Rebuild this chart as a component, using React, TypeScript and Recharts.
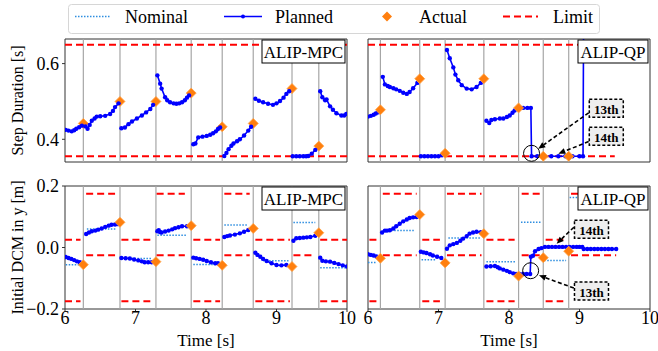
import React from 'react';
import {
  ComposedChart, Line, Scatter, XAxis, YAxis, ReferenceLine, ReferenceArea, ReferenceDot, Legend,
} from 'recharts';

type P = [number, number];
type Row = { t: number; v: number | null };

// ---------- axes ----------
const xTicks = [6, 7, 8, 9, 10];
const durationTicks = [0.4, 0.6];
const dcmTicks = [-0.2, 0, 0.2];
const durationDomain = [0.34, 0.665];
const dcmDomain = [-0.2, 0.2];
const legendLabels = ['Nominal', 'Planned', 'Actual', 'Limit'];

// ---------- step switch times ----------
const mpcSwitchTimes = [6.26, 6.78, 7.29, 7.79, 8.23, 8.67, 9.22, 9.6];
const qpSwitchTimes = [6.176, 6.734, 7.094, 7.643, 8.136, 8.486, 8.847];

// ---------- step duration limits ----------
const durationLimitValues = [0.355, 0.65];
const mpcDurationLimitSpan = [6, 10];
const qpDurationLimitSpan = [6, 9.5];

// ---------- ALIP-MPC step duration ----------
const mpcDurationPlanned: P[][] = [
  [[6.01, 0.425], [6.05, 0.423], [6.095, 0.421], [6.13, 0.424], [6.16, 0.428], [6.2, 0.432], [6.24, 0.436]],
  [[6.29, 0.434], [6.32, 0.428], [6.35, 0.438], [6.38, 0.449], [6.42, 0.455], [6.45, 0.46], [6.5, 0.461], [6.57, 0.462], [6.64, 0.467], [6.68, 0.475], [6.71, 0.485], [6.76, 0.495]],
  [[6.8, 0.429], [6.85, 0.431], [6.9, 0.44], [6.95, 0.447], [7.02, 0.455], [7.09, 0.463], [7.15, 0.471], [7.21, 0.48], [7.25, 0.491]],
  [[7.31, 0.569], [7.35, 0.547], [7.37, 0.534], [7.42, 0.511], [7.45, 0.503], [7.49, 0.498], [7.54, 0.495], [7.58, 0.494], [7.62, 0.495], [7.66, 0.498], [7.7, 0.503], [7.73, 0.51], [7.76, 0.516]],
  [[7.82, 0.387], [7.85, 0.389], [7.89, 0.405], [7.95, 0.407], [8.01, 0.409], [8.06, 0.412], [8.1, 0.416], [8.14, 0.421], [8.17, 0.427], [8.2, 0.431]],
  [[8.26, 0.356], [8.29, 0.364], [8.32, 0.374], [8.36, 0.383], [8.39, 0.389], [8.44, 0.395], [8.48, 0.4], [8.54, 0.41], [8.6, 0.423], [8.64, 0.433]],
  [[8.7, 0.507], [8.75, 0.502], [8.81, 0.498], [8.88, 0.494], [8.95, 0.491], [9.0, 0.495], [9.05, 0.501], [9.1, 0.51], [9.14, 0.52], [9.18, 0.527]],
  [[9.23, 0.355], [9.28, 0.355], [9.33, 0.355], [9.38, 0.355], [9.42, 0.355], [9.45, 0.356], [9.5, 0.362], [9.55, 0.372]],
  [[9.62, 0.527], [9.65, 0.511], [9.69, 0.503], [9.71, 0.505], [9.76, 0.487], [9.8, 0.478], [9.85, 0.469], [9.92, 0.463], [9.96, 0.463], [9.99, 0.467]],
];
const mpcDurationActual: P[] = [
  [6.26, 0.442], [6.78, 0.5], [7.29, 0.5], [7.79, 0.522], [8.23, 0.433], [8.67, 0.442], [9.22, 0.534], [9.6, 0.382],
];

// ---------- ALIP-QP step duration ----------
const qpDurationPlanned: P[][] = [
  [[6.0, 0.46], [6.04, 0.462], [6.08, 0.465], [6.11, 0.468], [6.14, 0.471]],
  [[6.21, 0.565], [6.24, 0.545], [6.28, 0.541], [6.31, 0.538], [6.36, 0.535], [6.4, 0.532], [6.45, 0.528], [6.5, 0.523], [6.55, 0.52], [6.59, 0.525], [6.64, 0.535], [6.7, 0.549]],
  [[6.75, 0.355], [6.8, 0.355], [6.85, 0.355], [6.9, 0.355], [6.95, 0.355], [7.0, 0.355], [7.05, 0.358]],
  [[7.12, 0.636], [7.16, 0.614], [7.21, 0.59], [7.24, 0.571], [7.28, 0.556], [7.33, 0.543], [7.4, 0.534], [7.47, 0.532], [7.54, 0.538], [7.6, 0.549]],
  [[7.68, 0.449], [7.72, 0.443], [7.75, 0.451], [7.8, 0.453], [7.87, 0.455], [7.92, 0.455], [7.97, 0.459], [8.01, 0.463], [8.05, 0.47], [8.08, 0.476], [8.14, 0.483], [8.2, 0.483], [8.26, 0.483], [8.31, 0.483],
    [8.32, 0.355], [8.4, 0.355], [8.5, 0.355], [8.6, 0.355], [8.7, 0.355], [8.8, 0.355], [8.9, 0.355], [9.0, 0.355], [9.05, 0.355], [9.06, 0.8], [9.5, 0.8]],
];
const qpDurationActual: P[] = [
  [6.176, 0.478], [6.734, 0.56], [7.094, 0.363], [7.643, 0.56], [8.136, 0.483], [8.486, 0.355], [8.847, 0.355],
];

// ---------- ALIP-MPC initial DCM ----------
const mpcDcmPlanned: P[][] = [
  [[6.01, -0.031], [6.05, -0.034], [6.09, -0.037], [6.13, -0.041], [6.17, -0.045], [6.21, -0.048], [6.23, -0.05]],
  [[6.3, 0.044], [6.34, 0.049], [6.38, 0.053], [6.43, 0.055], [6.47, 0.058], [6.52, 0.062], [6.57, 0.067], [6.62, 0.071], [6.66, 0.074], [6.71, 0.075], [6.75, 0.076]],
  [[6.8, -0.034], [6.86, -0.035], [6.92, -0.036], [6.98, -0.039], [7.04, -0.042], [7.09, -0.045], [7.13, -0.048], [7.18, -0.048], [7.23, -0.048]],
  [[7.31, 0.053], [7.33, 0.056], [7.35, 0.05], [7.37, 0.049], [7.42, 0.052], [7.47, 0.055], [7.52, 0.059], [7.56, 0.063], [7.61, 0.066], [7.66, 0.069], [7.73, 0.069]],
  [[7.82, -0.033], [7.86, -0.035], [7.91, -0.037], [7.96, -0.04], [8.01, -0.044], [8.07, -0.048], [8.13, -0.051], [8.17, -0.051]],
  [[8.26, 0.034], [8.3, 0.037], [8.34, 0.039], [8.41, 0.042], [8.48, 0.046], [8.54, 0.051], [8.6, 0.057]],
  [[8.7, -0.017], [8.73, -0.024], [8.77, -0.03], [8.81, -0.037], [8.86, -0.044], [8.93, -0.051], [9.0, -0.057], [9.07, -0.058], [9.14, -0.057]],
  [[9.24, 0.022], [9.28, 0.03], [9.33, 0.031], [9.38, 0.032], [9.43, 0.033], [9.48, 0.034], [9.55, 0.038]],
  [[9.62, -0.033], [9.65, -0.043], [9.7, -0.045], [9.76, -0.046], [9.82, -0.05], [9.88, -0.054], [9.94, -0.058], [10.0, -0.062]],
];
const mpcDcmActual: P[] = [
  [6.26, -0.056], [6.78, 0.082], [7.29, -0.046], [7.79, 0.071], [8.23, -0.058], [8.67, 0.062], [9.22, -0.062], [9.6, 0.048],
];
// [start, end, value]
const mpcDcmNominal: number[][] = [
  [6.01, 6.21, -0.056], [6.31, 6.73, 0.06], [6.9, 7.23, -0.036], [7.31, 7.73, 0.04], [7.82, 8.17, -0.055],
  [8.26, 8.6, 0.073], [8.81, 9.17, -0.043], [9.24, 9.55, 0.081], [9.62, 10, -0.066],
];
// [start, end, lower, upper]
const mpcDcmLimits: number[][] = [
  [6.0, 6.22, -0.175, 0.025], [6.3, 6.71, -0.025, 0.175], [6.8, 7.21, -0.175, 0.025], [7.3, 7.7, -0.025, 0.175],
  [7.82, 8.2, -0.175, 0.025], [8.26, 8.62, -0.025, 0.175], [8.7, 9.19, -0.175, 0.025], [9.24, 9.55, -0.025, 0.175],
  [9.62, 10, -0.175, 0.025],
];

// ---------- ALIP-QP initial DCM ----------
const qpDcmPlanned: P[][] = [
  [[6.0, -0.022], [6.04, -0.024], [6.08, -0.026], [6.12, -0.029]],
  [[6.2, 0.049], [6.24, 0.055], [6.27, 0.055], [6.31, 0.056], [6.36, 0.062], [6.4, 0.069], [6.45, 0.077], [6.5, 0.085], [6.55, 0.091], [6.59, 0.096], [6.64, 0.098], [6.69, 0.099]],
  [[6.75, -0.014], [6.79, -0.016], [6.83, -0.018], [6.88, -0.022], [6.92, -0.026], [6.98, -0.03], [7.04, -0.034]],
  [[7.12, -0.004], [7.16, 0.007], [7.21, 0.011], [7.26, 0.015], [7.31, 0.022], [7.35, 0.029], [7.4, 0.037], [7.44, 0.045], [7.49, 0.049], [7.54, 0.051], [7.6, 0.05]],
  [[7.68, -0.062], [7.74, -0.061], [7.8, -0.06], [7.84, -0.064], [7.87, -0.068], [7.92, -0.072], [7.97, -0.076], [8.01, -0.08], [8.06, -0.084], [8.1, -0.086], [8.15, -0.086], [8.2, -0.086], [8.25, -0.086], [8.3, -0.086],
    [8.31, -0.03], [8.34, -0.027], [8.37, -0.012], [8.42, -0.005], [8.46, -0.002], [8.51, 0.002], [8.56, 0.002], [8.61, 0.002], [8.66, 0.002], [8.71, 0.002], [8.76, 0.002], [8.81, 0.002], [8.86, 0.002], [8.91, 0.002], [8.96, 0.002], [9.0, 0.002], [9.04, 0.002],
    [9.06, -0.005], [9.11, -0.005], [9.16, -0.005], [9.21, -0.005], [9.26, -0.005], [9.31, -0.005], [9.36, -0.005], [9.41, -0.005], [9.46, -0.005], [9.52, -0.005]],
];
const qpDcmActual: P[] = [
  [6.176, -0.035], [6.734, 0.107], [7.094, -0.05], [7.643, 0.045], [8.136, -0.093], [8.486, -0.033], [8.847, -0.012],
];
const qpDcmNominal: number[][] = [
  [6.0, 6.11, -0.049], [6.33, 6.66, 0.055], [6.76, 6.97, -0.04], [7.14, 7.59, 0.031], [7.68, 8.09, -0.046],
  [8.17, 8.45, 0.082], [8.5, 8.81, -0.042], [8.86, 9.2, 0.163],
];
const qpDcmLimits: number[][] = [
  [6.02, 6.13, -0.175, 0.025], [6.21, 6.69, -0.025, 0.175], [6.77, 7.02, -0.175, 0.025], [7.12, 7.61, -0.025, 0.175],
  [7.68, 8.08, -0.175, 0.025], [8.18, 8.44, -0.025, 0.175], [8.52, 8.77, -0.175, 0.025], [8.88, 9.52, -0.025, 0.175],
];

// ---------- annotations (data coordinates) ----------
const qpDurationCircle: P = [8.32, 0.363];
const qpDurationTags: [string, number, number][] = [['13th', 9.38, 0.482], ['14th', 9.38, 0.408]];
const qpDurationArrows: number[][] = [[9.13, 0.47, 8.415, 0.375], [9.13, 0.394, 8.7, 0.362]];
const qpDcmCircle: P = [8.307, -0.0755];
const qpDcmTags: [string, number, number][] = [['14th', 9.17, 0.0595], ['13th', 9.17, -0.1415]];
const qpDcmArrows: number[][] = [[8.92, 0.066, 8.676, 0.0124], [8.92, -0.132, 8.425, -0.0905]];

// ---------- styles ----------
const FONT = "'Liberation Serif', 'Times New Roman', serif";
const BLUE = '#0000ff';
const NOMINAL = '#2f8ee0';
const ORANGE = '#ff7f0e';
const RED = '#ff0000';
const GRAY = '#a6a6a6';
const W = 658;
const H = 351;
const PLOT_W = 282;
const PLOT_H = 123;
const Y_AXIS_W = 60;
const X_AXIS_H = 40;

// ---------- helpers ----------
const toRows = (segs: P[][]): Row[] => {
  const rows: Row[] = [];
  segs.forEach((seg, i) => {
    if (i > 0) {
      const prev = segs[i - 1];
      rows.push({ t: (prev[prev.length - 1][0] + seg[0][0]) / 2, v: null });
    }
    seg.forEach(([t, v]) => rows.push({ t, v }));
  });
  return rows;
};
const nominalRows = (arr: number[][]) => toRows(arr.map(([a, b, v]) => [[a, v], [b, v]] as P[]));
const limitRows = (arr: number[][], idx: number) => toRows(arr.map((r) => [[r[0], r[idx]], [r[1], r[idx]]] as P[]));
const spanRows = (span: number[], v: number) => toRows([[[span[0], v], [span[1], v]]]);
const fmtTick = (v: number) => (v < 0 ? `\u2212${Math.abs(v).toFixed(1)}` : v.toFixed(1));

const Diamond = (p: any) => {
  const { cx, cy } = p;
  if (cx == null || cy == null) return <g />;
  const s = 5;
  return (
    <polygon
      points={`${cx},${cy - s} ${cx + s},${cy} ${cx},${cy + s} ${cx - s},${cy}`}
      fill={ORANGE}
      stroke="#ffa347"
      strokeWidth={0.8}
    />
  );
};

const ArrowShape = (p: any) => {
  const { x1, y1, x2, y2 } = p;
  const ang = Math.atan2(y2 - y1, x2 - x1);
  const L = 7;
  const Wd = 3;
  const bx = x2 - L * Math.cos(ang);
  const by = y2 - L * Math.sin(ang);
  const px = -Math.sin(ang) * Wd;
  const py = Math.cos(ang) * Wd;
  return (
    <g>
      <line x1={x1} y1={y1} x2={bx} y2={by} stroke="#000" strokeWidth={1.6} strokeDasharray="4 2.5" />
      <polygon points={`${x2},${y2} ${bx + px},${by + py} ${bx - px},${by - py}`} fill="#000" />
    </g>
  );
};

const makeTagShape = (text: string) => (p: any) => {
  const { cx, cy } = p;
  const w = 34;
  const h = 18;
  return (
    <g>
      <rect x={cx - w / 2} y={cy - h / 2} width={w} height={h} fill="#eeeeee" stroke="#000" strokeWidth={1.5} strokeDasharray="3 2" />
      <text x={cx} y={cy + 1} textAnchor="middle" dominantBaseline="central" fontFamily={FONT} fontWeight="bold" fontSize={13} fill="#000">
        {text}
      </text>
    </g>
  );
};

const makeBoxShape = (text: string, w: number) => (p: any) => {
  const { cx, cy } = p;
  return (
    <g>
      <rect x={cx - w - 2} y={cy + 1} width={w} height={23} fill="#fff" stroke="#000" strokeWidth={1} />
      <text x={cx - w / 2 - 2} y={cy + 13} textAnchor="middle" dominantBaseline="central" fontFamily={FONT} fontSize={17} fill="#000">
        {text}
      </text>
    </g>
  );
};

const LegendBox = () => (
  <svg width={532} height={30} style={{ display: 'block' }}>
    <rect x={0.5} y={0.5} width={531} height={29} rx={3} fill="#fff" stroke="#d6d6d6" />
    <line x1={7} x2={42} y1={12.5} y2={12.5} stroke={NOMINAL} strokeWidth={1.5} strokeDasharray="1.5 1.5" />
    <text x={57} y={19} fontFamily={FONT} fontSize={18} fill="#000">{legendLabels[0]}</text>
    <line x1={156} x2={194} y1={12.5} y2={12.5} stroke={BLUE} strokeWidth={1.5} />
    <circle cx={175} cy={12.5} r={2} fill={BLUE} />
    <text x={207} y={19} fontFamily={FONT} fontSize={18} fill="#000">{legendLabels[1]}</text>
    <polygon points="319,7.5 324,12.5 319,17.5 314,12.5" fill={ORANGE} />
    <text x={351} y={19} fontFamily={FONT} fontSize={18} fill="#000">{legendLabels[2]}</text>
    <line x1={435} x2={470} y1={12.5} y2={12.5} stroke={RED} strokeWidth={2} strokeDasharray="7 4" />
    <text x={485} y={19} fontFamily={FONT} fontSize={18} fill="#000">{legendLabels[3]}</text>
  </svg>
);

type PanelProps = {
  plotLeft: number;
  plotTop: number;
  yDomain: number[];
  yTicks: number[];
  yLabels: boolean;
  yTitle?: string;
  xLabels: boolean;
  xTitle?: string;
  switchTimes: number[];
  planned: Row[];
  nominal?: Row[];
  limits: Row[][];
  actual: P[];
  tag: string;
  tagWidth: number;
  legend?: boolean;
  circle?: P;
  tags?: [string, number, number][];
  arrows?: number[][];
};

function Panel(props: PanelProps) {
  const {
    plotLeft, plotTop, yDomain, yTicks, yLabels, yTitle, xLabels, xTitle, switchTimes,
    planned, nominal, limits, actual, tag, tagWidth, legend, circle, tags, arrows,
  } = props;
  const margin = {
    top: plotTop,
    left: plotLeft - Y_AXIS_W,
    right: W - plotLeft - PLOT_W,
    bottom: H - plotTop - PLOT_H - X_AXIS_H,
  };
  const tickStyle = { fontSize: 18, fontFamily: FONT, fill: '#000' };
  return (
    <div style={{ position: 'absolute', left: 0, top: 0 }}>
      <ComposedChart width={W} height={H} margin={margin}>
        <XAxis
          type="number"
          dataKey="t"
          domain={[6, 10]}
          ticks={xTicks}
          interval={0}
          allowDataOverflow
          axisLine={false}
          tickLine={{ stroke: '#333' }}
          tickSize={3}
          tickMargin={-1}
          height={X_AXIS_H}
          tick={xLabels ? tickStyle : false}
          label={
            xTitle
              ? (lp: any) => {
                  const vb = lp.viewBox || {};
                  return (
                    <text x={vb.x + vb.width / 2} y={vb.y + 31} textAnchor="middle" dominantBaseline="central" fontFamily={FONT} fontSize={17} fill="#000">
                      {xTitle}
                    </text>
                  );
                }
              : undefined
          }
        />
        <YAxis
          type="number"
          domain={yDomain}
          ticks={yTicks}
          interval={0}
          allowDataOverflow
          axisLine={false}
          tickLine={{ stroke: '#333' }}
          tickSize={3}
          tickMargin={3}
          width={Y_AXIS_W}
          tick={yLabels ? tickStyle : false}
          tickFormatter={fmtTick}
          label={
            yTitle
              ? (lp: any) => {
                  const vb = lp.viewBox || {};
                  const cy = vb.y + vb.height / 2;
                  const cx = 17;
                  return (
                    <text x={cx} y={cy} transform={`rotate(-90 ${cx} ${cy})`} textAnchor="middle" dominantBaseline="central" fontFamily={FONT} fontSize={16} fill="#000">
                      {yTitle}
                    </text>
                  );
                }
              : undefined
          }
        />
        {switchTimes.map((t) => (
          <ReferenceLine key={`sw-${t}`} x={t} stroke={GRAY} strokeWidth={1.2} ifOverflow="visible" />
        ))}
        {limits.map((rows, i) => (
          <Line
            key={`lim-${i}`}
            data={rows}
            dataKey="v"
            stroke={RED}
            strokeWidth={2}
            strokeDasharray="7 4"
            dot={false}
            activeDot={false}
            connectNulls={false}
            isAnimationActive={false}
          />
        ))}
        {nominal ? (
          <Line
            data={nominal}
            dataKey="v"
            stroke={NOMINAL}
            strokeWidth={1.5}
            strokeDasharray="1.5 1.5"
            dot={false}
            activeDot={false}
            connectNulls={false}
            isAnimationActive={false}
          />
        ) : null}
        <Line
          data={planned}
          dataKey="v"
          stroke={BLUE}
          strokeWidth={1.6}
          dot={{ r: 2.2, fill: BLUE, stroke: BLUE, strokeWidth: 0 }}
          activeDot={false}
          connectNulls={false}
          isAnimationActive={false}
        />
        <Scatter data={actual.map(([t, v]) => ({ t, v }))} dataKey="v" shape={Diamond} isAnimationActive={false} />
        <ReferenceArea x1={6} x2={10} y1={yDomain[0]} y2={yDomain[1]} fill="none" stroke="#333" strokeWidth={1} ifOverflow="visible" />
        {circle ? (
          <ReferenceDot x={circle[0]} y={circle[1]} r={8} fill="none" stroke="#000" strokeWidth={1} ifOverflow="visible" />
        ) : null}
        {(arrows || []).map((a, i) => (
          <ReferenceLine
            key={`arr-${i}`}
            segment={[{ x: a[0], y: a[1] }, { x: a[2], y: a[3] }]}
            ifOverflow="visible"
            shape={ArrowShape}
          />
        ))}
        {(tags || []).map(([txt, t, v]) => (
          <ReferenceDot key={`tag-${txt}`} x={t} y={v} r={1} ifOverflow="visible" shape={makeTagShape(txt)} />
        ))}
        <ReferenceDot x={10} y={yDomain[1]} r={1} ifOverflow="visible" shape={makeBoxShape(tag, tagWidth)} />
        {legend ? (
          <Legend
            content={() => <LegendBox />}
            layout="horizontal"
            verticalAlign="middle"
            align="center"
            width={532}
            height={30}
            wrapperStyle={{ left: 68, top: 4, width: 532, height: 30 }}
          />
        ) : null}
      </ComposedChart>
    </div>
  );
}

export default function App() {
  const durLimitsMpc = durationLimitValues.map((v) => spanRows(mpcDurationLimitSpan, v));
  const durLimitsQp = durationLimitValues.map((v) => spanRows(qpDurationLimitSpan, v));
  return (
    <div style={{ position: 'absolute', left: 0, top: 0, width: W, height: H, background: '#fff', fontFamily: FONT }}>
      <Panel
        plotLeft={65}
        plotTop={39}
        yDomain={durationDomain}
        yTicks={durationTicks}
        yLabels
        yTitle="Step Duration [s]"
        xLabels={false}
        switchTimes={mpcSwitchTimes}
        planned={toRows(mpcDurationPlanned)}
        limits={durLimitsMpc}
        actual={mpcDurationActual}
        tag="ALIP-MPC"
        tagWidth={83}
        legend
      />
      <Panel
        plotLeft={368}
        plotTop={39}
        yDomain={durationDomain}
        yTicks={durationTicks}
        yLabels={false}
        xLabels={false}
        switchTimes={qpSwitchTimes}
        planned={toRows(qpDurationPlanned)}
        limits={durLimitsQp}
        actual={qpDurationActual}
        tag="ALIP-QP"
        tagWidth={70}
        circle={qpDurationCircle}
        tags={qpDurationTags}
        arrows={qpDurationArrows}
      />
      <Panel
        plotLeft={65}
        plotTop={186}
        yDomain={dcmDomain}
        yTicks={dcmTicks}
        yLabels
        yTitle="Initial DCM in y [m]"
        xLabels
        xTitle="Time [s]"
        switchTimes={mpcSwitchTimes}
        planned={toRows(mpcDcmPlanned)}
        nominal={nominalRows(mpcDcmNominal)}
        limits={[limitRows(mpcDcmLimits, 2), limitRows(mpcDcmLimits, 3)]}
        actual={mpcDcmActual}
        tag="ALIP-MPC"
        tagWidth={83}
      />
      <Panel
        plotLeft={368}
        plotTop={186}
        yDomain={dcmDomain}
        yTicks={dcmTicks}
        yLabels={false}
        xLabels
        xTitle="Time [s]"
        switchTimes={qpSwitchTimes}
        planned={toRows(qpDcmPlanned)}
        nominal={nominalRows(qpDcmNominal)}
        limits={[limitRows(qpDcmLimits, 2), limitRows(qpDcmLimits, 3)]}
        actual={qpDcmActual}
        tag="ALIP-QP"
        tagWidth={70}
        circle={qpDcmCircle}
        tags={qpDcmTags}
        arrows={qpDcmArrows}
      />
    </div>
  );
}
